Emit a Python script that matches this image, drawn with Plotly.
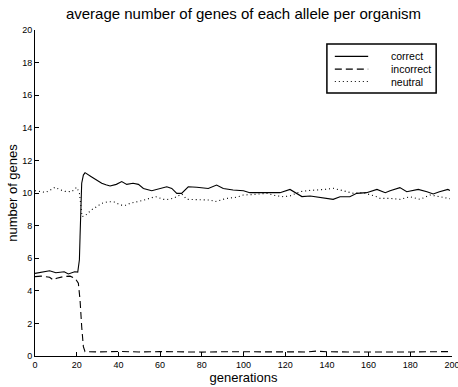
import plotly.graph_objects as go

# ---- data ----
correct_gen = [0, 3, 7, 10, 14, 16, 19, 20.5, 21.3, 21.6, 22.4, 23.2, 24, 27, 29.6, 32, 34, 36, 39,
               41.6, 44, 47, 49.6, 52, 56, 60, 63.2, 65.6, 68, 70.3, 73.5, 77.6, 83.1, 87.1, 90.3,
               95, 100, 103, 108, 113, 117.5, 122.3, 124.7, 128, 132, 136.7, 140, 143, 146.3, 151,
               154.3, 159, 164, 168, 170.3, 175, 178.3, 183.8, 188, 191, 194, 198, 199]
correct_val = [5.07, 5.15, 5.23, 5.11, 5.17, 5.03, 5.17, 5.15, 5.9, 7.3, 10.6, 11.1, 11.25, 11.0,
               10.8, 10.6, 10.5, 10.43, 10.53, 10.7, 10.53, 10.6, 10.53, 10.28, 10.14, 10.28, 10.38,
               10.28, 9.98, 9.98, 10.38, 10.35, 10.28, 10.49, 10.28, 10.18, 10.14, 10.02, 10.02,
               10.02, 10.02, 10.22, 10.02, 9.78, 9.82, 9.74, 9.68, 9.61, 9.77, 9.77, 9.98, 10.02,
               10.22, 10.02, 10.14, 10.33, 10.08, 10.22, 10.08, 9.94, 10.08, 10.22, 10.15]

incorrect_gen = [0, 3, 7, 8.8, 10.4, 13.6, 16.8, 19.2, 20.8, 21.6, 22.4, 23.2, 24, 30, 40, 50, 60,
                 70, 80, 90, 100, 110, 120, 130, 135, 140, 150, 160, 170, 180, 190, 199]
incorrect_val = [4.87, 4.9, 4.83, 4.66, 4.77, 4.87, 4.9, 4.77, 4.46, 3.44, 1.8, 0.57, 0.27, 0.25,
                 0.28, 0.25, 0.27, 0.25, 0.24, 0.26, 0.25, 0.26, 0.27, 0.25, 0.3, 0.26, 0.25, 0.27,
                 0.25, 0.25, 0.26, 0.27]

neutral_gen = [0, 2, 5, 7, 9.6, 12, 14.4, 17.6, 20, 21.3, 21.9, 22.6, 24, 27, 29.6, 32, 35, 38, 41,
               44, 45.6, 49.6, 52, 56.7, 58, 61.5, 63.2, 66.3, 68, 70.4, 72.8, 77.6, 80.7, 84, 86.3,
               89, 91.9, 96.7, 99.9, 104, 107.1, 111.1, 115, 119.1, 122.3, 125, 127.1, 131, 135.1,
               139, 143.1, 147.9, 152.7, 157.5, 161, 163.9, 165.5, 170.3, 175.1, 179.9, 184.7,
               189.4, 194.2, 198.2, 199]
neutral_val = [10.14, 10.1, 10.04, 10.15, 10.35, 10.2, 10.1, 10.08, 10.35, 10.0, 9.37, 8.55, 8.6,
               8.96, 9.16, 9.37, 9.47, 9.45, 9.26, 9.25, 9.37, 9.47, 9.55, 9.74, 9.77, 9.61, 9.6,
               9.67, 9.77, 9.94, 9.61, 9.6, 9.57, 9.57, 9.47, 9.55, 9.67, 9.74, 9.88, 9.9, 9.94,
               9.98, 9.85, 9.77, 9.82, 9.95, 10.08, 10.15, 10.18, 10.22, 10.29, 10.14, 9.98, 10.02,
               9.9, 9.77, 9.67, 9.67, 9.61, 9.77, 9.61, 9.88, 9.77, 9.67, 9.65]

series_names = ["correct", "incorrect", "neutral"]
x_ticks = [0, 20, 40, 60, 80, 100, 120, 140, 160, 180, 200]
y_ticks = [0, 2, 4, 6, 8, 10, 12, 14, 16, 18, 20]

FONT = "Liberation Sans, Arial, sans-serif"
styles = {"correct": "solid", "incorrect": "7px,4px", "neutral": "1px,3px"}

fig = go.Figure()
for name, xs, ys in zip(series_names,
                        [correct_gen, incorrect_gen, neutral_gen],
                        [correct_val, incorrect_val, neutral_val]):
    fig.add_trace(go.Scatter(x=xs, y=ys, mode="lines", name=name, showlegend=False,
                             line=dict(color="black", width=1.1, dash=styles[name])))

# manual legend (paper coordinates)
shapes = [dict(type="rect", xref="paper", yref="paper", x0=0.700, x1=0.962, y0=0.807, y1=0.957,
               line=dict(color="black", width=1.5), fillcolor="white", layer="above")]
annotations = []
row_y = [0.919, 0.880, 0.842]
for name, ry in zip(series_names, row_y):
    shapes.append(dict(type="line", xref="paper", yref="paper", x0=0.719, x1=0.799, y0=ry, y1=ry,
                       line=dict(color="black", width=1.1, dash=styles[name]), layer="above"))
    annotations.append(dict(xref="paper", yref="paper", x=0.851, y=ry, text=name, showarrow=False,
                            xanchor="left", yanchor="middle", borderpad=0,
                            font=dict(family=FONT, size=10.5, color="black")))

fig.update_layout(
    width=458, height=387,
    margin=dict(l=35, r=6, t=30, b=31, autoexpand=False),
    paper_bgcolor="white", plot_bgcolor="white",
    font=dict(family=FONT, color="black"),
    title=dict(text="average number of genes of each allele per organism",
               x=0.5, xref="paper", xanchor="center", y=0.964, yanchor="middle",
               font=dict(family=FONT, size=15, color="black")),
    shapes=shapes, annotations=annotations,
)
fig.update_xaxes(range=[0, 200], tickvals=x_ticks, ticks="inside", ticklen=4, tickcolor="black",
                 showline=True, linecolor="black", linewidth=1, showgrid=False, zeroline=False,
                 mirror=False, tickfont=dict(size=9, family=FONT), automargin=False,
                 ticklabeloverflow="allow",
                 title=dict(text="generations", font=dict(size=13, family=FONT), standoff=2))
fig.update_yaxes(range=[0, 20], tickvals=y_ticks, ticks="inside", ticklen=4, tickcolor="black",
                 showline=True, linecolor="black", linewidth=1, showgrid=False, zeroline=False,
                 mirror=False, tickfont=dict(size=9, family=FONT), automargin=False,
                 title=dict(text="number of genes", font=dict(size=13, family=FONT), standoff=1))

fig.write_html("out.html", config={"displayModeBar": False},
               post_script="document.body.style.margin='0px';")
